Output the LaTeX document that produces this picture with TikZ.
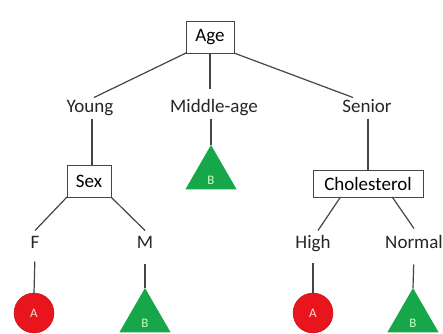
\documentclass[tikz,border=0pt]{standalone}
\usepackage{fontspec}
\setmainfont{Carlito}
\usetikzlibrary{shapes.geometric, calc}
\definecolor{dtgray}{HTML}{454545}
\definecolor{dtred}{HTML}{E8161C}
\definecolor{dtgreen}{HTML}{18A64A}

\begin{document}
\begin{tikzpicture}[
  x=1pt, y=-1pt,
  every node/.style={font=\fontsize{19}{21}\selectfont},
  testnode/.style={rectangle, draw=dtgray, line width=1pt, fill=white, inner sep=0pt, outer sep=0pt},
  branch/.style={inner sep=2pt, outer sep=0pt, text height=13pt, text depth=4pt, text=black!85},
  leafa/.style={circle, fill=dtred, draw=dtred!80!black, minimum size=40pt, inner sep=0pt, outer sep=0pt, text=white!85!red, font=\fontsize{13}{15}\selectfont},
  leafb/.style={regular polygon, regular polygon sides=3, fill=dtgreen, minimum size=59pt, inner sep=0pt, outer sep=0pt, text=white!80!green, text height=20pt, text depth=0pt, font=\fontsize{13}{15}\selectfont},
  edge/.style={draw=dtgray, line width=1.2pt},
]
\useasboundingbox[fill=white] (0,0) rectangle (443,333);

% Root test
\node[testnode, minimum width=48pt, minimum height=32pt] (age) at (210,37) {Age};

\node[branch] (young) at (90,108) {Young};
\node[branch] (mid) at (214,108) {Middle-age};
\node[branch] (senior) at (367,108) {Senior};

\draw[edge] (age.south west) -- ([xshift=4pt]young.north);
\draw[edge, shorten >=9pt] (age.south) -- (age.south |- mid.north);
\draw[edge] (age.south east) -- ([xshift=-14pt]senior.north);

% Middle-age leaf
\node[leafb, anchor=corner 1] (mleaf) at (211,145) {B};
\draw[edge] (mleaf.corner 1 |- mid.south) -- (mleaf.corner 1);

% Young subtree
\node[testnode, minimum width=44pt, minimum height=32pt] (sex) at (89,181) {Sex};
\draw[edge] ([xshift=2pt]young.south) -- ([xshift=2pt]young.south |- sex.north);

\node[branch] (f) at (35,244) {F};
\node[branch] (m) at (145,244) {M};
\draw[edge] (sex.south west) -- ([yshift=3pt]f.north);
\draw[edge] (sex.south east) -- ([yshift=3pt]m.north);

\node[leafa] (fleaf) at (34,313) {A};
\node[leafb, anchor=corner 1] (mleafb) at (145,288) {B};
\draw[edge, shorten <=7pt] (f.south) -- (fleaf.north);
\draw[edge, shorten <=9pt] (m.south) -- (mleafb.corner 1);

% Senior subtree
\node[testnode, minimum width=110pt, minimum height=27pt] (chol) at (368,183.5) {Cholesterol};
\draw[edge] ([xshift=1pt]senior.south) -- ([xshift=1pt]senior.south |- chol.north);

\node[branch] (high) at (313,244) {High};
\node[branch] (normal) at (414,244) {Normal};
\draw[edge] ($(chol.south west)!.25!(chol.south east)$) -- ([xshift=5pt, yshift=3pt]high.north);
\draw[edge] ($(chol.south west)!.72!(chol.south east)$) -- ([yshift=5pt]normal.north);

\node[leafa] (hleaf) at (313,313) {A};
\node[leafb, anchor=corner 1] (nleaf) at (413,288) {B};
\draw[edge, shorten <=8pt] (high.south) -- (hleaf.north);
\draw[edge, shorten <=10pt] (normal.south) -- (nleaf.corner 1);

\end{tikzpicture}
\end{document}
